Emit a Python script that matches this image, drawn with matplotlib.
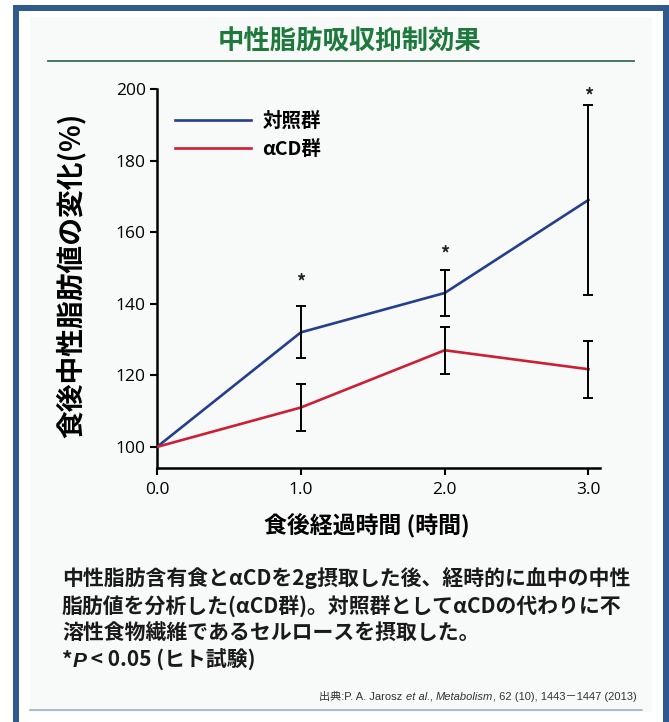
import matplotlib.pyplot as plt
from matplotlib.patches import Rectangle
from matplotlib.lines import Line2D

plt.rcParams['font.family'] = ['Noto Sans CJK JP', 'DejaVu Sans']

# time after meal (hours) and change in blood triglyceride (%)
hours = [0.0, 1.0, 2.0, 3.0]
control_vals = [100, 132, 143, 169]
control_err = [0, 7.3, 6.3, 26.5]
acd_vals = [100, 111, 127, 121.7]
acd_err = [0, 6.6, 6.6, 8.0]
# significance markers (*P < 0.05)
star_x = [1.0, 2.0, 3.0]
star_y = [146, 154, 198]

series_labels = ['対照群', 'αCD群']
x_ticks = [0.0, 1.0, 2.0, 3.0]
x_ticklabels = ['0.0', '1.0', '2.0', '3.0']
y_ticks = [100, 120, 140, 160, 180, 200]

title = '中性脂肪吸収抑制効果'
x_label = '食後経過時間 (時間)'
y_label = '食後中性脂肪値の変化(%)'
caption = ['中性脂肪含有食とαCDを2g摂取した後、経時的に血中の中性',
           '脂肪値を分析した(αCD群)。対照群としてαCDの代わりに不',
           '溶性食物繊維であるセルロースを摂取した。']

W, H = 669, 722
fig = plt.figure(figsize=(W / 100, H / 100), dpi=100)
fig.patch.set_facecolor('white')


def fx(px):
    return px / W


def fy(py):
    return 1 - py / H


def box(x0, y0, x1, y1, color):
    fig.add_artist(Rectangle((fx(x0), fy(y1)), fx(x1) - fx(x0), fy(y0) - fy(y1),
                             transform=fig.transFigure, color=color, lw=0, zorder=-5))


# blue frame and pale panel
frame = '#2f5a8e'
box(30, 17, 652, 712, '#f8f9f9')
box(13, 5, 669, 11, frame)
box(13, 5, 19, 722, frame)
box(663, 5, 669, 722, frame)

# heading with rule below
fig.text(fx(350), fy(42), title, ha='center', va='center', fontsize=19,
         fontweight='bold', color='#1d7a3c')
fig.add_artist(Line2D([fx(48), fx(634)], [fy(61), fy(61)], transform=fig.transFigure,
                      color='#3d6b55', lw=1.3, zorder=-4))
fig.add_artist(Line2D([fx(30), fx(642)], [fy(710), fy(710)], transform=fig.transFigure,
                      color='#9db3c2', lw=1.2, zorder=-4))

ax_l, ax_r, ax_t, ax_b = 157, 600, 89, 468
ax = fig.add_axes([fx(ax_l), fy(ax_b), fx(ax_r) - fx(ax_l), fy(ax_t) - fy(ax_b)])
ax.set_facecolor('none')

blue = '#243f8c'
red = '#cc1f36'
ax.plot(hours, control_vals, color=blue, lw=1.9, label=series_labels[0], zorder=3)
ax.plot(hours, acd_vals, color=red, lw=1.9, label=series_labels[1], zorder=3)
ax.errorbar(hours[1:], control_vals[1:], yerr=control_err[1:], fmt='none',
            ecolor='black', elinewidth=1.4, capsize=3.5, capthick=1.4, zorder=4)
ax.errorbar(hours[1:], acd_vals[1:], yerr=acd_err[1:], fmt='none',
            ecolor='black', elinewidth=1.4, capsize=3.5, capthick=1.4, zorder=4)
for sx, sy in zip(star_x, star_y):
    ax.text(sx, sy, '*', ha='center', va='center', fontsize=13, fontweight='bold',
            color='#222222')

ax.set_xlim(0, 3.08)
ax.set_ylim(94.1, 200)
ax.set_xticks(x_ticks)
ax.set_xticklabels(x_ticklabels)
ax.set_yticks(y_ticks)
for side in ['top', 'right']:
    ax.spines[side].set_visible(False)
for side in ['left', 'bottom']:
    ax.spines[side].set_linewidth(1.8)
ax.tick_params(direction='out', length=5, width=1.5, labelsize=12.5, colors='black')
ax.tick_params(axis='y', pad=3)
ax.tick_params(axis='x', pad=5)
for lab in ax.get_xticklabels() + ax.get_yticklabels():
    lab.set_family(['Open Sans', 'DejaVu Sans'])

ax.set_xlabel(x_label, fontsize=16.5, fontweight='bold')
ax.xaxis.set_label_coords((367 - ax_l) / (ax_r - ax_l), -(513 - ax_b) / (ax_b - ax_t))
ax.set_ylabel(y_label, fontsize=20, fontweight='bold')
ax.yaxis.set_label_coords(-(157 - 86) / (ax_r - ax_l), (ax_b - 275) / (ax_b - ax_t))

leg = ax.legend(loc='upper left', bbox_to_anchor=(0.04, 0.94), frameon=False,
                handlelength=3.9, handletextpad=0.6, labelspacing=0.48,
                borderpad=0, borderaxespad=0,
                prop={'family': 'Noto Sans CJK JP', 'size': 14, 'weight': 'bold'})

# explanatory note below the chart
for i, line in enumerate(caption):
    fig.text(fx(62), fy(578 + 27.5 * i), line, ha='left', va='center', fontsize=15,
             fontweight='bold', color='#1a1a1a')


def chain(x0, y0, pieces, size, right=False):
    # place text pieces side by side; from the right end when right=True
    order = pieces[::-1] if right else pieces
    ha = 'right' if right else 'left'
    anchor = (0, 0) if right else (1, 0)
    t = fig.text(fx(x0), fy(y0), order[0][0], ha=ha, va='bottom', fontsize=size,
                 **order[0][1])
    for text, kw in order[1:]:
        t = ax.annotate(text, xy=anchor, xycoords=t, ha=ha, va='bottom',
                        fontsize=size, annotation_clip=False, **kw)
    return t


bold_cjk = dict(fontweight='bold', color='#1a1a1a')
chain(62, 671, [('*', bold_cjk),
                ('P', dict(family='Liberation Sans', style='italic', fontweight='bold',
                           color='#1a1a1a')),
                (' < 0.05 (ヒト試験)', bold_cjk)], 15)

src_fam = ['Liberation Sans', 'Noto Sans CJK JP']
src_kw = dict(family=src_fam, color='#333333')
src_it = dict(family=src_fam, style='italic', color='#333333')
chain(637, 702, [('出典:P. A. Jarosz ', src_kw), ('et al.', src_it), (', ', src_kw),
                 ('Metabolism', src_it), (', 62 (10), 1443－1447 (2013)', src_kw)],
      8, right=True)

fig.savefig('out.png', dpi=100)
